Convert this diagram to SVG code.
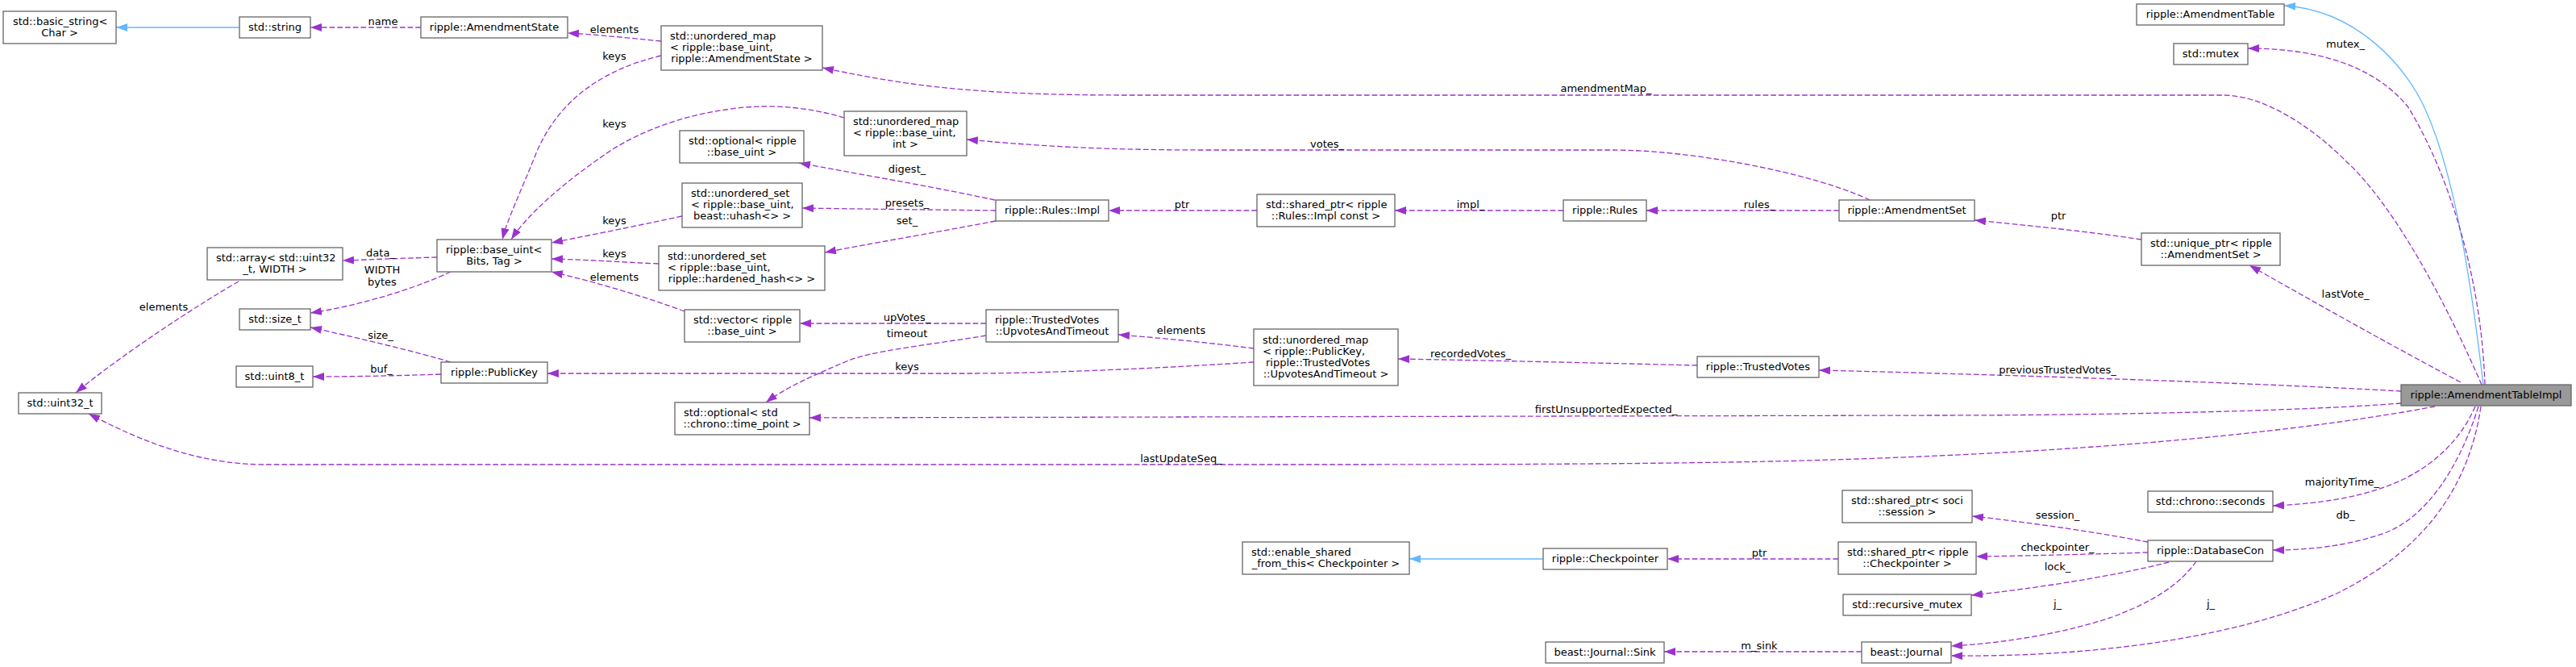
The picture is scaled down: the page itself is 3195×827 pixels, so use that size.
<svg xmlns="http://www.w3.org/2000/svg" width="3195" height="827" viewBox="0 0 3195 827">
<style>
text{font-family:"DejaVu Sans",sans-serif;font-size:13px;fill:#000}
.n rect{fill:#fff;stroke:#666;stroke-width:1.3}
.main rect{fill:#999}
.m{text-anchor:middle}
.e{fill:none;stroke:#9a32cd;stroke-width:1.3;stroke-dasharray:6.7,3;marker-end:url(#pa)}
.b{fill:none;stroke:#63b8ff;stroke-width:1.3;marker-end:url(#ba)}
</style>
<defs>
<marker id="pa" markerUnits="userSpaceOnUse" markerWidth="14" markerHeight="10" refX="14" refY="5" orient="auto"><path d="M0,0L14,5L0,10z" fill="#9a32cd"/></marker>
<marker id="ba" markerUnits="userSpaceOnUse" markerWidth="14" markerHeight="10" refX="14" refY="5" orient="auto"><path d="M0,0L14,5L0,10z" fill="#63b8ff"/></marker>
</defs>
<rect width="3195" height="827" fill="#fff"/>
<g id="connectors">
<path class="b" d="M297,34L144,34"/>
<path class="e" d="M522,34L385,34"/><text class="m" x="475" y="30.7">name</text>
<path class="e" d="M820,51C780,47 740,43 704,41"/><text class="m" x="762" y="40.7">elements</text>
<path class="e" d="M820,69C740,88 690,130 665,190C645,240 630,270 623,297"/><text class="m" x="762" y="73.7">keys</text>
<path class="e" d="M1047,146C1000,132 950,128 900,136C850,143 800,160 760,185C700,225 655,265 634,297"/><text class="m" x="762" y="157.7">keys</text>
<path class="e" d="M846,268C790,280 740,290 684,301"/><text class="m" x="762" y="277.7">keys</text>
<path class="e" d="M817,327C770,325 730,322 684,321"/><text class="m" x="762" y="318.7">keys</text>
<path class="e" d="M849,386C800,368 740,350 684,337"/><text class="m" x="762" y="347.7">elements</text>
<path class="e" d="M542,319C500,320 460,322 425,323"/><text class="m" x="472" y="317.7">data_</text>
<path class="e" d="M559,337C510,360 440,380 385,388"/><text class="m" x="474" y="338.7">WIDTH</text><text class="m" x="474" y="353.7">bytes</text>
<path class="e" d="M296,349C250,375 150,440 94,487"/><text class="m" x="203" y="384.7">elements</text>
<path class="e" d="M559,449C520,437 440,418 385,406"/><text class="m" x="472" y="419.7">size_</text>
<path class="e" d="M547,464C490,466 440,467 388,467"/><text class="m" x="473" y="461.7">buf_</text>
<path class="e" d="M1234,248C1150,230 1060,215 991,202"/><text class="m" x="1125" y="213.7">digest_</text>
<path class="e" d="M1235,261C1150,260 1060,259 995,258"/><text class="m" x="1125" y="255.7">presets_</text>
<path class="e" d="M1235,274C1150,290 1080,302 1023,313"/><text class="m" x="1125" y="277.7">set_</text>
<path class="e" d="M1559,261L1375,261"/><text class="m" x="1466" y="257.7">ptr</text>
<path class="e" d="M1939,261L1730,261"/><text class="m" x="1824" y="257.7">impl_</text>
<path class="e" d="M2281,261L2042,261"/><text class="m" x="2182" y="257.7">rules_</text>
<path class="e" d="M2319,248C2250,215 2100,186 2000,186L1500,186C1350,186 1280,180 1199,173"/><text class="m" x="1646" y="182.7">votes_</text>
<path class="e" d="M2656,297C2590,287 2520,280 2449,273"/><text class="m" x="2553" y="271.7">ptr</text>
<path class="b" d="M3080,477C3065,350 3045,220 3010,140C2985,80 2920,12 2833,7"/>
<path class="e" d="M3082,477C3078,350 3040,220 2987,133C2940,75 2860,60 2788,60"/><text class="m" x="2909" y="58.7">mutex_</text>
<path class="e" d="M3078,477C3040,390 2975,260 2910,200C2870,160 2810,118 2757,118L1400,118C1200,118 1120,105 1020,84"/><text class="m" x="1992" y="113.7">amendmentMap_</text>
<path class="e" d="M3052,474C2960,425 2880,380 2790,329"/><text class="m" x="2909" y="368.7">lastVote_</text>
<path class="e" d="M2978,485C2800,475 2500,465 2256,459"/><text class="m" x="2552" y="462.7">previousTrustedVotes_</text>
<path class="e" d="M2105,453C1980,450 1850,447 1734,445"/><text class="m" x="1824" y="442.7">recordedVotes_</text>
<path class="e" d="M1555,432C1500,425 1440,419 1387,415"/><text class="m" x="1465" y="413.7">elements</text>
<path class="e" d="M1555,449C1450,456 1300,463 1200,463L679,463"/><text class="m" x="1125" y="458.7">keys</text>
<path class="e" d="M1223,401L992,401"/><text class="m" x="1125" y="397.7">upVotes_</text>
<path class="e" d="M1223,416C1150,428 1080,435 1050,448C1010,465 975,480 950,499"/><text class="m" x="1125" y="417.7">timeout</text>
<path class="e" d="M2978,500C2850,510 2600,515 2400,515L1004,518"/><text class="m" x="1992" y="511.7">firstUnsupportedExpected_</text>
<path class="e" d="M3020,504C2800,545 2500,565 2200,572C2000,576 1800,576 1600,576L330,576C250,576 180,550 110,513"/><text class="m" x="1465" y="572.7">lastUpdateSeq_</text>
<path class="e" d="M3070,504C3050,550 3010,585 2960,603C2920,618 2870,625 2819,627"/><text class="m" x="2905" y="601.7">majorityTime_</text>
<path class="e" d="M3074,504C3050,580 3010,640 2960,660C2910,678 2860,682 2819,682"/><text class="m" x="2909" y="642.7">db_</text>
<path class="e" d="M3077,504C3060,620 2990,690 2900,735C2780,790 2600,815 2420,813"/><text class="m" x="2742" y="752.7">j_</text>
<path class="e" d="M2664,672C2600,660 2520,648 2446,640"/><text class="m" x="2552" y="642.7">session_</text>
<path class="e" d="M2664,685C2600,687 2520,689 2451,690"/><text class="m" x="2552" y="682.7">checkpointer_</text>
<path class="e" d="M2690,697C2620,715 2520,730 2445,738"/><text class="m" x="2552" y="706.7">lock_</text>
<path class="e" d="M2724,696C2700,730 2660,750 2620,765C2560,785 2490,797 2420,801"/><text class="m" x="2552" y="752.7">j_</text>
<path class="e" d="M2280,693L2068,693"/><text class="m" x="2182" y="689.7">ptr</text>
<path class="b" d="M1914,693L1748,693"/>
<path class="e" d="M2309,808L2064,808"/><text class="m" x="2182" y="804.7">m_sink</text>
</g>
<g id="basic_string" class="n"><rect x="4" y="14" width="140" height="40"/><text x="16" y="30.7">std::basic_string&lt;</text><text class="m" x="74" y="44.7">Char &gt;</text></g>
<g id="std_string" class="n"><rect x="297" y="21" width="88" height="26"/><text class="m" x="341" y="38">std::string</text></g>
<g id="amendment_state" class="n"><rect x="522" y="21" width="182" height="26"/><text class="m" x="613" y="38">ripple::AmendmentState</text></g>
<g id="umap_amendment_state" class="n"><rect x="820" y="32" width="200" height="55"/><text x="831" y="49.2">std::unordered_map</text><text x="831" y="63.2">&lt; ripple::base_uint,</text><text class="m" x="920" y="77.2">ripple::AmendmentState &gt;</text></g>
<g id="umap_int" class="n"><rect x="1047" y="138" width="152" height="55"/><text x="1058" y="155.2">std::unordered_map</text><text x="1058" y="169.2">&lt; ripple::base_uint,</text><text class="m" x="1123" y="183.2">int &gt;</text></g>
<g id="optional_base_uint" class="n"><rect x="843" y="162" width="154" height="40"/><text x="854" y="178.7">std::optional&lt; ripple</text><text class="m" x="920" y="192.7">::base_uint &gt;</text></g>
<g id="uset_uhash" class="n"><rect x="846" y="227" width="149" height="55"/><text x="857" y="244.2">std::unordered_set</text><text x="857" y="258.2">&lt; ripple::base_uint,</text><text class="m" x="920.5" y="272.2">beast::uhash&lt;&gt; &gt;</text></g>
<g id="base_uint" class="n"><rect x="542" y="297" width="142" height="40"/><text x="553" y="313.7">ripple::base_uint&lt;</text><text class="m" x="613" y="327.7">Bits, Tag &gt;</text></g>
<g id="std_array" class="n"><rect x="257" y="307" width="168" height="40"/><text x="268" y="323.7">std::array&lt; std::uint32</text><text class="m" x="341" y="337.7">_t, WIDTH &gt;</text></g>
<g id="uset_hardened" class="n"><rect x="817" y="305" width="206" height="55"/><text x="828" y="322.2">std::unordered_set</text><text x="828" y="336.2">&lt; ripple::base_uint,</text><text class="m" x="920" y="350.2">ripple::hardened_hash&lt;&gt; &gt;</text></g>
<g id="rules_impl" class="n"><rect x="1235" y="248" width="140" height="26"/><text class="m" x="1305" y="265">ripple::Rules::Impl</text></g>
<g id="shared_ptr_rules_impl" class="n"><rect x="1559" y="241" width="171" height="40"/><text x="1570" y="257.7">std::shared_ptr&lt; ripple</text><text class="m" x="1644.5" y="271.7">::Rules::Impl const &gt;</text></g>
<g id="rules" class="n"><rect x="1939" y="248" width="103" height="26"/><text class="m" x="1990.5" y="265">ripple::Rules</text></g>
<g id="amendment_set" class="n"><rect x="2281" y="248" width="168" height="26"/><text class="m" x="2365" y="265">ripple::AmendmentSet</text></g>
<g id="amendment_table" class="n"><rect x="2650" y="5" width="183" height="26"/><text class="m" x="2741.5" y="22">ripple::AmendmentTable</text></g>
<g id="std_mutex" class="n"><rect x="2696" y="54" width="92" height="26"/><text class="m" x="2742" y="71">std::mutex</text></g>
<g id="unique_ptr_amendment_set" class="n"><rect x="2656" y="289" width="172" height="40"/><text x="2667" y="305.7">std::unique_ptr&lt; ripple</text><text class="m" x="2742" y="319.7">::AmendmentSet &gt;</text></g>
<g id="std_size_t" class="n"><rect x="297" y="383" width="88" height="26"/><text class="m" x="341" y="400">std::size_t</text></g>
<g id="vector_base_uint" class="n"><rect x="849" y="384" width="143" height="40"/><text x="860" y="400.7">std::vector&lt; ripple</text><text class="m" x="920.5" y="414.7">::base_uint &gt;</text></g>
<g id="upvotes_and_timeout" class="n"><rect x="1223" y="384" width="164" height="40"/><text x="1234" y="400.7">ripple::TrustedVotes</text><text class="m" x="1305" y="414.7">::UpvotesAndTimeout</text></g>
<g id="umap_public_key" class="n"><rect x="1555" y="408" width="179" height="70"/><text x="1566" y="425.7">std::unordered_map</text><text x="1566" y="439.7">&lt; ripple::PublicKey,</text><text x="1570" y="453.7">ripple::TrustedVotes</text><text class="m" x="1644.5" y="467.7">::UpvotesAndTimeout &gt;</text></g>
<g id="trusted_votes" class="n"><rect x="2105" y="442" width="151" height="26"/><text class="m" x="2180.5" y="459">ripple::TrustedVotes</text></g>
<g id="uint8" class="n"><rect x="293" y="454" width="95" height="26"/><text class="m" x="340.5" y="471">std::uint8_t</text></g>
<g id="public_key" class="n"><rect x="547" y="449" width="132" height="26"/><text class="m" x="613" y="466">ripple::PublicKey</text></g>
<g id="uint32" class="n"><rect x="23" y="487" width="103" height="26"/><text class="m" x="74.5" y="504">std::uint32_t</text></g>
<g id="optional_time_point" class="n"><rect x="837" y="499" width="167" height="40"/><text x="848" y="515.7">std::optional&lt; std</text><text class="m" x="920.5" y="529.7">::chrono::time_point &gt;</text></g>
<g id="amendment_table_impl" class="n main"><rect x="2978" y="477" width="211" height="26"/><text class="m" x="3083.5" y="494">ripple::AmendmentTableImpl</text></g>
<g id="shared_ptr_session" class="n"><rect x="2285" y="608" width="161" height="40"/><text x="2296" y="624.7">std::shared_ptr&lt; soci</text><text class="m" x="2365.5" y="638.7">::session &gt;</text></g>
<g id="chrono_seconds" class="n"><rect x="2664" y="609" width="155" height="26"/><text class="m" x="2741.5" y="626">std::chrono::seconds</text></g>
<g id="enable_shared_from_this" class="n"><rect x="1541" y="672" width="207" height="40"/><text x="1552" y="688.7">std::enable_shared</text><text class="m" x="1644.5" y="702.7">_from_this&lt; Checkpointer &gt;</text></g>
<g id="checkpointer" class="n"><rect x="1914" y="680" width="154" height="26"/><text class="m" x="1991" y="697">ripple::Checkpointer</text></g>
<g id="shared_ptr_checkpointer" class="n"><rect x="2280" y="672" width="171" height="40"/><text x="2291" y="688.7">std::shared_ptr&lt; ripple</text><text class="m" x="2365.5" y="702.7">::Checkpointer &gt;</text></g>
<g id="database_con" class="n"><rect x="2664" y="670" width="155" height="26"/><text class="m" x="2741.5" y="687">ripple::DatabaseCon</text></g>
<g id="recursive_mutex" class="n"><rect x="2286" y="737" width="159" height="26"/><text class="m" x="2365.5" y="754">std::recursive_mutex</text></g>
<g id="journal_sink" class="n"><rect x="1917" y="796" width="147" height="26"/><text class="m" x="1990.5" y="813">beast::Journal::Sink</text></g>
<g id="journal" class="n"><rect x="2309" y="796" width="111" height="26"/><text class="m" x="2364.5" y="813">beast::Journal</text></g>
</svg>
